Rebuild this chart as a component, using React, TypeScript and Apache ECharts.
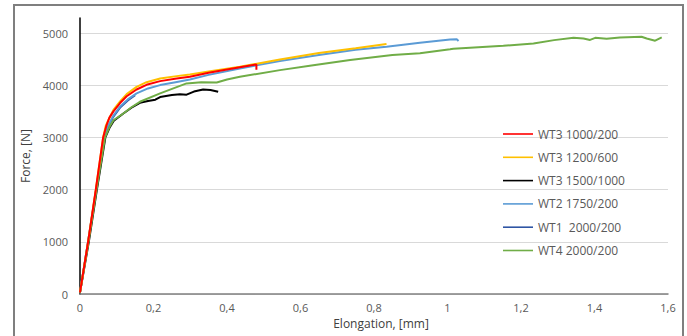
import React, { useEffect, useRef } from "react";
import * as echarts from "echarts";

// Elongation [mm], Force [N]
const seriesNames = [
  "WT3 1000/200",
  "WT3 1200/600",
  "WT3 1500/1000",
  "WT2 1750/200",
  "WT1  2000/200",
  "WT4 2000/200",
];

const wt3_1000: [number, number][] = [
  [0, 30], [0.022, 1000], [0.043, 2000], [0.063, 3000], [0.072, 3230], [0.08, 3380],
  [0.091, 3500], [0.109, 3660], [0.127, 3790], [0.154, 3920], [0.181, 4010], [0.218, 4080],
  [0.263, 4130], [0.299, 4165], [0.35, 4240], [0.435, 4345], [0.48, 4400], [0.48, 4300],
];

const wt3_1200: [number, number][] = [
  [0, 30], [0.022, 1000], [0.043, 2000], [0.063, 3000], [0.07, 3220], [0.077, 3330],
  [0.091, 3530], [0.109, 3690], [0.127, 3830], [0.154, 3970], [0.181, 4060], [0.218, 4130],
  [0.263, 4176], [0.299, 4209], [0.35, 4265], [0.435, 4355], [0.544, 4496], [0.65, 4620],
  [0.75, 4710], [0.834, 4790],
];

const wt3_1500: [number, number][] = [
  [0, 30], [0.024, 1000], [0.046, 2000], [0.069, 3000], [0.08, 3180], [0.092, 3320],
  [0.118, 3460], [0.14, 3570], [0.163, 3665], [0.185, 3700], [0.205, 3725], [0.218, 3775],
  [0.25, 3815], [0.272, 3830], [0.29, 3820], [0.31, 3880], [0.335, 3920], [0.355, 3910],
  [0.376, 3876],
];

const wt2_1750: [number, number][] = [
  [0, 30], [0.022, 1000], [0.044, 2000], [0.066, 3000], [0.075, 3200], [0.09, 3410],
  [0.11, 3600], [0.13, 3730], [0.154, 3845], [0.185, 3940], [0.218, 4004], [0.26, 4060],
  [0.299, 4112], [0.35, 4200], [0.435, 4323], [0.544, 4464], [0.65, 4580], [0.75, 4680],
  [0.834, 4740], [0.925, 4814], [1.007, 4880], [1.025, 4885], [1.03, 4850],
];

const wt1_2000: [number, number][] = [
  [0, 30], [0.022, 1000], [0.044, 2000], [0.066, 3000], [0.075, 3180], [0.09, 3390],
  [0.11, 3580], [0.13, 3710], [0.15, 3810],
];

const wt4_2000: [number, number][] = [
  [0, 30], [0.023, 1000], [0.045, 2000], [0.068, 3000], [0.08, 3200], [0.091, 3330],
  [0.118, 3460], [0.14, 3580], [0.163, 3684], [0.218, 3845], [0.29, 4036], [0.33, 4060],
  [0.372, 4055], [0.4, 4110], [0.435, 4163], [0.544, 4291], [0.63, 4380], [0.735, 4483],
  [0.85, 4580], [0.925, 4615], [1.007, 4690], [1.016, 4700], [1.152, 4757], [1.234, 4802],
  [1.29, 4866], [1.343, 4910], [1.37, 4898], [1.388, 4870], [1.402, 4910], [1.433, 4891],
  [1.469, 4917], [1.528, 4930], [1.542, 4898], [1.565, 4855], [1.583, 4917],
];

const seriesData = [wt3_1000, wt3_1200, wt3_1500, wt2_1750, wt1_2000, wt4_2000];
const seriesColors = ["#ff0000", "#ffc000", "#000000", "#5b9bd5", "#2f55a4", "#70ad47"];
const seriesZ = [6, 5, 3, 4, 2, 4];

const xTicks = [0, 0.2, 0.4, 0.6, 0.8, 1, 1.2, 1.4, 1.6];
const yTicks = [0, 1000, 2000, 3000, 4000, 5000];

export default function App() {
  const ref = useRef<HTMLDivElement>(null);
  useEffect(() => {
    if (!ref.current) return;
    const chart = echarts.init(ref.current, undefined, { renderer: "svg" });
    const font = "'Open Sans', Lato, sans-serif";
    chart.setOption({
      animation: false,
      backgroundColor: "#ffffff",
      textStyle: { fontFamily: font },
      grid: { left: 80, right: 19, top: 18, bottom: 42, containLabel: false },
      graphic: [
        {
          type: "rect",
          shape: { x: 14, y: 5, width: 669, height: 345 },
          style: { fill: "none", stroke: "#7f7f7f", lineWidth: 2 },
          silent: true,
          z: 100,
        },
      ],
      legend: {
        orient: "vertical",
        left: 498,
        top: 122,
        itemWidth: 30,
        itemHeight: 14,
        itemGap: 9.3,
        icon: "path://M0,0M30,14M0,6.2H30V7.8H0Z",
        data: seriesNames,
        textStyle: { color: "#595959", fontSize: 12, fontFamily: font },
      },
      xAxis: {
        type: "value",
        min: xTicks[0],
        max: xTicks[xTicks.length - 1],
        interval: 0.2,
        name: "Elongation, [mm]",
        nameLocation: "middle",
        nameGap: 17,
        nameTextStyle: { color: "#404040", fontSize: 12, fontFamily: font, padding: [0, 0, 0, 14] },
        axisLine: { show: true, lineStyle: { color: "#808080", width: 1.5 } },
        axisTick: { show: false },
        splitLine: { show: false },
        axisLabel: {
          color: "#595959",
          fontSize: 11,
          margin: 8,
          formatter: (v: number) => String(+v.toFixed(1)).replace(".", ","),
        },
      },
      yAxis: {
        type: "value",
        min: yTicks[0],
        max: 5290,
        interval: 1000,
        name: "Force, [N]",
        nameLocation: "middle",
        nameGap: 48,
        nameTextStyle: { color: "#404040", fontSize: 12, fontFamily: font },
        axisLine: { show: true, lineStyle: { color: "#000000", width: 1.5 } },
        axisTick: { show: false },
        splitLine: { show: true, showMaxLine: false, lineStyle: { color: "#d9d9d9", width: 1 } },
        axisLabel: {
          color: "#595959",
          fontSize: 11,
          margin: 12,
          formatter: (v: number) => (yTicks.indexOf(v) >= 0 ? String(v) : ""),
        },
      },
      series: seriesNames.map((name, i) => ({
        name,
        type: "line",
        data: seriesData[i],
        showSymbol: false,
        symbol: "none",
        z: seriesZ[i],
        color: seriesColors[i],
        lineStyle: { color: seriesColors[i], width: 2 },
      })),
    });
    return () => chart.dispose();
  }, []);
  return (
    <div
      ref={ref}
      style={{ position: "fixed", left: 0, top: 0, width: 687, height: 336 }}
    />
  );
}
